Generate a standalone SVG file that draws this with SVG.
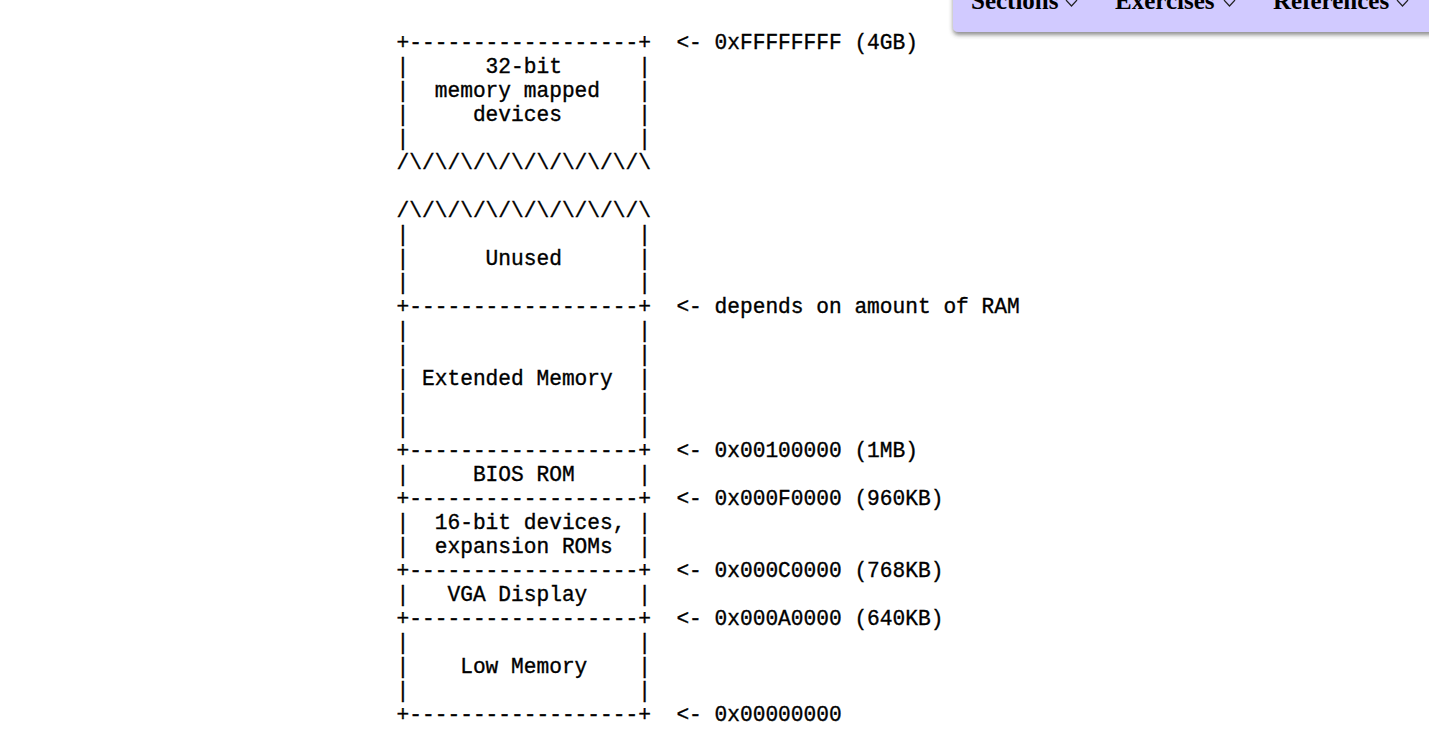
<svg xmlns="http://www.w3.org/2000/svg" width="1429" height="749" viewBox="0 0 1429 749">
<style>
.t{font-family:"Liberation Mono","DejaVu Sans Mono",monospace;font-size:21.2px;fill:#000;stroke:#000;stroke-width:0.35;white-space:pre}
.m{font-family:"Liberation Serif","Times New Roman",serif;font-size:25px;font-weight:bold;fill:#000}
.chev{fill:none;stroke:#222;stroke-width:1.2}
</style>
<defs>
<filter id="sh" x="-5%" y="-50%" width="110%" height="200%">
<feDropShadow dx="0" dy="3" stdDeviation="2" flood-color="#444" flood-opacity="0.6"/>
</filter>
</defs>
<rect width="1429" height="749" fill="#fff"/>
<g id="menu">
<path d="M953,-10 H1440 V32 H959 Q953,32 953,26 Z" fill="#d1caff" filter="url(#sh)"/>
<text class="m" x="971" y="9">Sections</text>
<polyline class="chev" points="1066,0 1071.5,6 1077,0"/>
<text class="m" x="1115" y="9">Exercises</text>
<polyline class="chev" points="1224,0 1229.5,6 1235,0"/>
<text class="m" x="1273" y="9">References</text>
<polyline class="chev" points="1397,0 1402.5,6 1408,0"/>
</g>
<g id="region-devices32">
<text class="t" x="396.6" y="49">+------------------+</text>
<text class="t" x="396.6" y="73">|      32-bit      |</text>
<text class="t" x="396.6" y="97">|  memory mapped   |</text>
<text class="t" x="396.6" y="121">|     devices      |</text>
<text class="t" x="396.6" y="145">|                  |</text>
<text class="t" x="396.6" y="169">/\/\/\/\/\/\/\/\/\/\</text>
</g>
<g id="region-unused">
<text class="t" x="396.6" y="217">/\/\/\/\/\/\/\/\/\/\</text>
<text class="t" x="396.6" y="241">|                  |</text>
<text class="t" x="396.6" y="265">|      Unused      |</text>
<text class="t" x="396.6" y="289">|                  |</text>
<text class="t" x="396.6" y="313">+------------------+</text>
</g>
<g id="region-extended">
<text class="t" x="396.6" y="337">|                  |</text>
<text class="t" x="396.6" y="361">|                  |</text>
<text class="t" x="396.6" y="385">| Extended Memory  |</text>
<text class="t" x="396.6" y="409">|                  |</text>
<text class="t" x="396.6" y="433">|                  |</text>
<text class="t" x="396.6" y="457">+------------------+</text>
</g>
<g id="region-bios">
<text class="t" x="396.6" y="481">|     BIOS ROM     |</text>
<text class="t" x="396.6" y="505">+------------------+</text>
</g>
<g id="region-devices16">
<text class="t" x="396.6" y="529">|  16-bit devices, |</text>
<text class="t" x="396.6" y="553">|  expansion ROMs  |</text>
<text class="t" x="396.6" y="577">+------------------+</text>
</g>
<g id="region-vga">
<text class="t" x="396.6" y="601">|   VGA Display    |</text>
<text class="t" x="396.6" y="625">+------------------+</text>
</g>
<g id="region-low">
<text class="t" x="396.6" y="649">|                  |</text>
<text class="t" x="396.6" y="673">|    Low Memory    |</text>
<text class="t" x="396.6" y="697">|                  |</text>
<text class="t" x="396.6" y="721">+------------------+</text>
</g>
<g id="connectors">
<text class="t" x="676.4" y="49">&lt;- 0xFFFFFFFF (4GB)</text>
<text class="t" x="676.4" y="313">&lt;- depends on amount of RAM</text>
<text class="t" x="676.4" y="457">&lt;- 0x00100000 (1MB)</text>
<text class="t" x="676.4" y="505">&lt;- 0x000F0000 (960KB)</text>
<text class="t" x="676.4" y="577">&lt;- 0x000C0000 (768KB)</text>
<text class="t" x="676.4" y="625">&lt;- 0x000A0000 (640KB)</text>
<text class="t" x="676.4" y="721">&lt;- 0x00000000</text>
</g>
</svg>
